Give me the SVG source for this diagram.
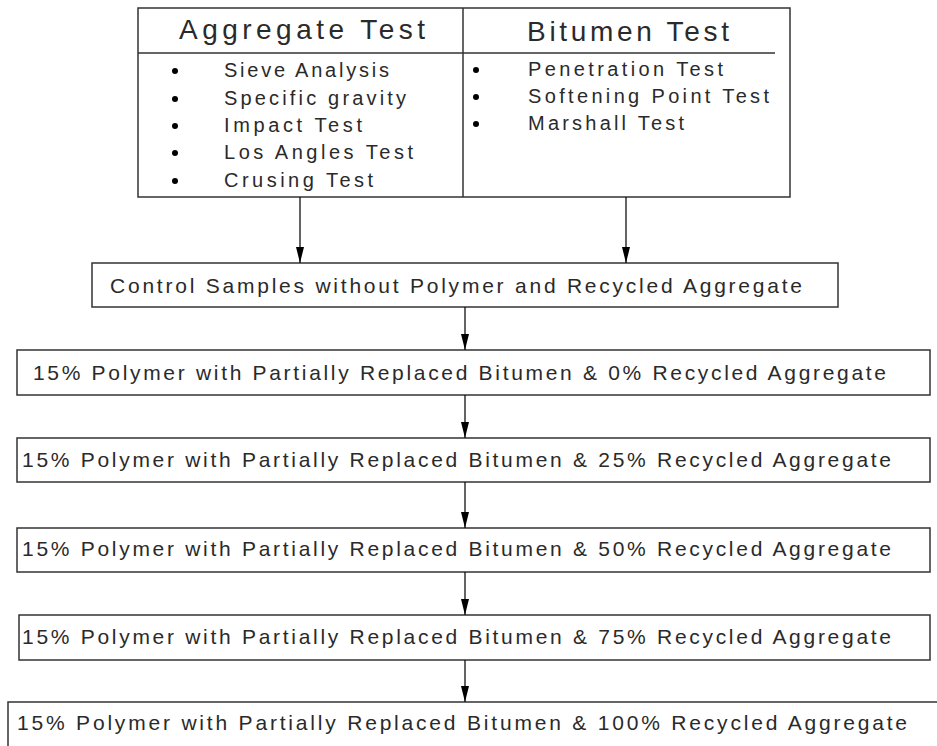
<svg xmlns="http://www.w3.org/2000/svg" width="937" height="746" viewBox="0 0 937 746">
<style>
.box{fill:#fff;stroke:#333;stroke-width:1.5}
.ln{stroke:#333;stroke-width:1.5;fill:none}
.t{font-family:"Liberation Sans",Arial,sans-serif;fill:#2a2a2a;font-size:21px}
.h{font-size:28px}
.li{font-size:20px}
.c{stroke:#111;stroke-width:1.3;fill:none;marker-end:url(#ah)}
</style>
<defs>
<marker id="ah" markerUnits="userSpaceOnUse" markerWidth="16" markerHeight="8" refX="16" refY="4" orient="auto" viewBox="0 0 16 8">
<path d="M0,0 L16,4 L0,8 Z" fill="#000"/>
</marker>
</defs>
<rect width="937" height="746" fill="#fff"/>
<g id="tests">
<rect class="box" x="138" y="8" width="652" height="189"/>
<line class="ln" x1="463" y1="8" x2="463" y2="197"/>
<line class="ln" x1="138" y1="53" x2="775" y2="53"/>
<text class="t h" x="179" y="39" textLength="246" lengthAdjust="spacing">Aggregate Test</text>
<text class="t h" x="527" y="41" textLength="202" lengthAdjust="spacing">Bitumen Test</text>
<g fill="#000">
<circle cx="175" cy="71" r="3"/><circle cx="175" cy="99" r="3"/><circle cx="175" cy="126" r="3"/><circle cx="175" cy="153" r="3"/><circle cx="175" cy="181" r="3"/>
<circle cx="476" cy="70" r="3"/><circle cx="476" cy="97" r="3"/><circle cx="476" cy="124" r="3"/>
</g>
<text class="t li" x="224" y="77" textLength="165" lengthAdjust="spacing">Sieve Analysis</text>
<text class="t li" x="224" y="105" textLength="182" lengthAdjust="spacing">Specific gravity</text>
<text class="t li" x="224" y="132" textLength="138" lengthAdjust="spacing">Impact Test</text>
<text class="t li" x="224" y="159" textLength="189" lengthAdjust="spacing">Los Angles Test</text>
<text class="t li" x="224" y="187" textLength="149" lengthAdjust="spacing">Crusing Test</text>
<text class="t li" x="528" y="76" textLength="195" lengthAdjust="spacing">Penetration Test</text>
<text class="t li" x="528" y="103" textLength="241" lengthAdjust="spacing">Softening Point Test</text>
<text class="t li" x="528" y="130" textLength="156" lengthAdjust="spacing">Marshall Test</text>
</g>
<g id="control">
<rect class="box" x="92" y="263" width="746" height="44"/>
<text class="t" x="110" y="293" textLength="692" lengthAdjust="spacing">Control Samples without Polymer and Recycled Aggregate</text>
</g>
<g id="mix0">
<rect class="box" x="17" y="350" width="913" height="45"/>
<text class="t" x="33" y="380" textLength="853" lengthAdjust="spacing">15% Polymer with Partially Replaced Bitumen &amp; 0% Recycled Aggregate</text>
</g>
<g id="mix25">
<rect class="box" x="17" y="438" width="913" height="44"/>
<text class="t" x="22" y="467" textLength="869" lengthAdjust="spacing">15% Polymer with Partially Replaced Bitumen &amp; 25% Recycled Aggregate</text>
</g>
<g id="mix50">
<rect class="box" x="17" y="528" width="913" height="44"/>
<text class="t" x="22" y="556" textLength="869" lengthAdjust="spacing">15% Polymer with Partially Replaced Bitumen &amp; 50% Recycled Aggregate</text>
</g>
<g id="mix75">
<rect class="box" x="19" y="615" width="911" height="45"/>
<text class="t" x="22" y="644" textLength="869" lengthAdjust="spacing">15% Polymer with Partially Replaced Bitumen &amp; 75% Recycled Aggregate</text>
</g>
<g id="mix100">
<rect class="box" x="8" y="702" width="940" height="60"/>
<text class="t" x="17" y="730" textLength="890" lengthAdjust="spacing">15% Polymer with Partially Replaced Bitumen &amp; 100% Recycled Aggregate</text>
</g>
<g id="connectors">
<line class="c" x1="300" y1="197" x2="300" y2="263"/>
<line class="c" x1="626" y1="197" x2="626" y2="263"/>
<line class="c" x1="465" y1="307" x2="465" y2="350"/>
<line class="c" x1="465" y1="395" x2="465" y2="438"/>
<line class="c" x1="465" y1="482" x2="465" y2="528"/>
<line class="c" x1="465" y1="572" x2="465" y2="615"/>
<line class="c" x1="465" y1="660" x2="465" y2="702"/>
</g>
</svg>
